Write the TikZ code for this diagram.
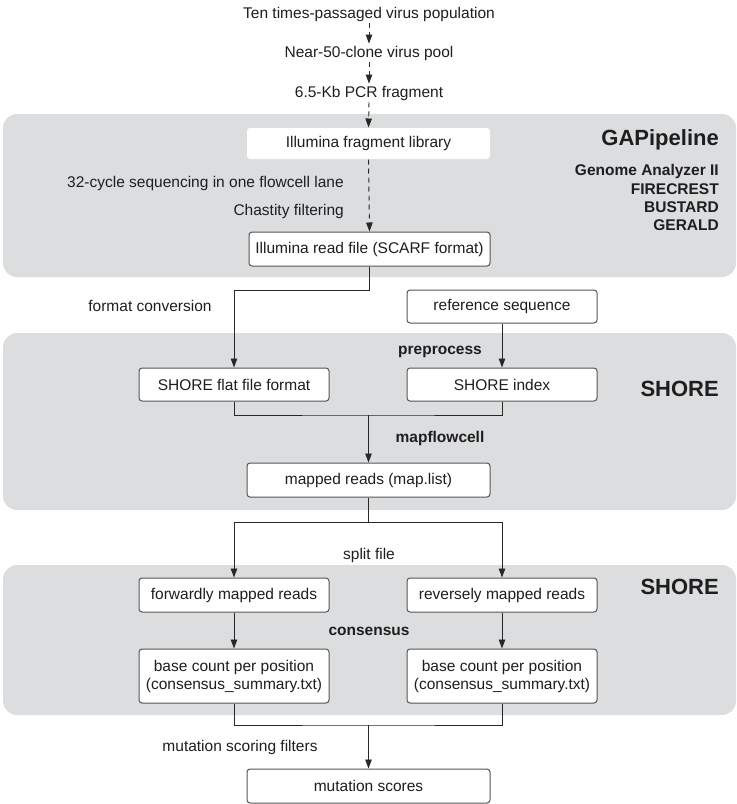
\documentclass[tikz,border=0pt]{standalone}
\usepackage{fontspec}
\setmainfont{Liberation Sans}
\usetikzlibrary{arrows.meta}
\definecolor{panelgray}{RGB}{220,221,223}
\definecolor{boxline}{RGB}{85,85,85}
\definecolor{linecol}{RGB}{40,40,40}
\definecolor{txtcol}{RGB}{30,30,30}
\begin{document}
\begin{tikzpicture}[x=1pt,y=-1pt,
  panel/.style={fill=panelgray, draw=none, rounded corners=14pt},
  box/.style={draw=boxline, fill=white, line width=1pt, rounded corners=3pt,
    font=\fontsize{15.5}{18}\selectfont, text=txtcol, align=center, inner sep=0pt},
  lbl/.style={font=\fontsize{15.5}{18}\selectfont, text=txtcol, inner sep=2pt},
  blbl/.style={font=\fontsize{15.5}{18}\selectfont\bfseries, text=txtcol, inner sep=1pt},
  ttl/.style={font=\fontsize{22}{26}\selectfont\bfseries, text=txtcol, inner sep=1pt},
  arr/.style={-{Triangle[length=9pt,width=6.5pt]}, line width=0.95pt, draw=linecol},
  ln/.style={line width=0.95pt, draw=linecol},
  darr/.style={arr, dash pattern=on 5pt off 4pt}
]
\useasboundingbox (0,0) rectangle (737,804);
% panels
\fill[panel] (3,114) rectangle (736,277);
\fill[panel] (3,333) rectangle (736,510);
\fill[panel] (3,565) rectangle (736,715);

% top texts
\node[lbl] (t1) at (369,14) {Ten times-passaged virus population};
\node[lbl] (t2) at (369,53) {Near-50-clone virus pool};
\node[lbl] (t3) at (369,93) {6.5-Kb PCR fragment};

% GAPipeline panel
\node[box, draw=none, minimum width=243pt, minimum height=31pt] (lib) at (368.5,143.5) {Illumina fragment library};
\node[box, minimum width=241pt, minimum height=34pt] (read) at (369.5,249) {Illumina read file (SCARF format)};
\node[lbl, anchor=east] (seq) at (346,183) {32-cycle sequencing in one flowcell lane};
\node[lbl, anchor=east] (chas) at (346,211) {Chastity filtering};
\node[ttl, anchor=east] (gap) at (720,140) {GAPipeline};
\node[blbl, anchor=east] (ga2) at (720,171) {Genome Analyzer II};
\node[blbl, anchor=east] (fire) at (720,189) {FIRECREST};
\node[blbl, anchor=east] (bus) at (720,207) {BUSTARD};
\node[blbl, anchor=east] (ger) at (720,225) {GERALD};

\draw[darr] (t1.south) -- (t2.north);
\draw[darr] (t2.south) -- (t3.north);
\draw[darr] (t3.south) -- (lib.north);
\draw[darr] (lib.south) -- (read.north);

% SHORE panel 1
\node[box, minimum width=190pt, minimum height=33pt] (ref) at (502,306.5) {reference sequence};
\node[lbl] (fc) at (150,306) {format conversion};
\node[box, minimum width=190pt, minimum height=33pt] (flat) at (234,384.5) {SHORE flat file format};
\node[box, minimum width=190pt, minimum height=33pt] (idx) at (502,384.5) {SHORE index};
\node[blbl] (pre) at (440,352) {preprocess};
\node[ttl, anchor=east] (sh1) at (720,389) {SHORE};
\node[blbl] (mfc) at (440,438) {mapflowcell};
\node[box, minimum width=243pt, minimum height=34pt] (map) at (368.5,480) {mapped reads (map.list)};

\draw[arr] (read.south) -- ++(0,24) -| (flat.north);
\draw[arr] (ref.south) -- (idx.north);
\coordinate (j1) at (368.5,415);
\draw[ln] (flat.south) |- (j1) -| (idx.south);
\draw[arr] (j1) -- (map.north);

% split
\node[lbl] (split) at (369,555) {split file};
\coordinate (j2) at (368.5,522);
\draw[ln] (map.south) -- (j2);

% SHORE panel 2
\node[box, minimum width=190pt, minimum height=34pt] (fwd) at (234,595) {forwardly mapped reads};
\node[box, minimum width=190pt, minimum height=34pt] (rev) at (502,595) {reversely mapped reads};
\node[ttl, anchor=east] (sh2) at (720,587) {SHORE};
\node[blbl] (cons) at (369,631) {consensus};
\node[box, minimum width=190pt, minimum height=54pt] (bc1) at (234,676) {base count per position\\(consensus\_summary.txt)};
\node[box, minimum width=190pt, minimum height=54pt] (bc2) at (502,676) {base count per position\\(consensus\_summary.txt)};

\draw[arr] (j2) -| (fwd.north);
\draw[arr] (j2) -| (rev.north);
\draw[arr] (fwd.south) -- (bc1.north);
\draw[arr] (rev.south) -- (bc2.north);

% final
\coordinate (j3) at (368.5,725);
\draw[ln] (bc1.south) |- (j3) -| (bc2.south);
\node[lbl] (msf) at (240,747) {mutation scoring filters};
\node[box, minimum width=243pt, minimum height=34pt] (mut) at (368.5,786) {mutation scores};
\draw[arr] (j3) -- (mut.north);
\end{tikzpicture}
\end{document}
